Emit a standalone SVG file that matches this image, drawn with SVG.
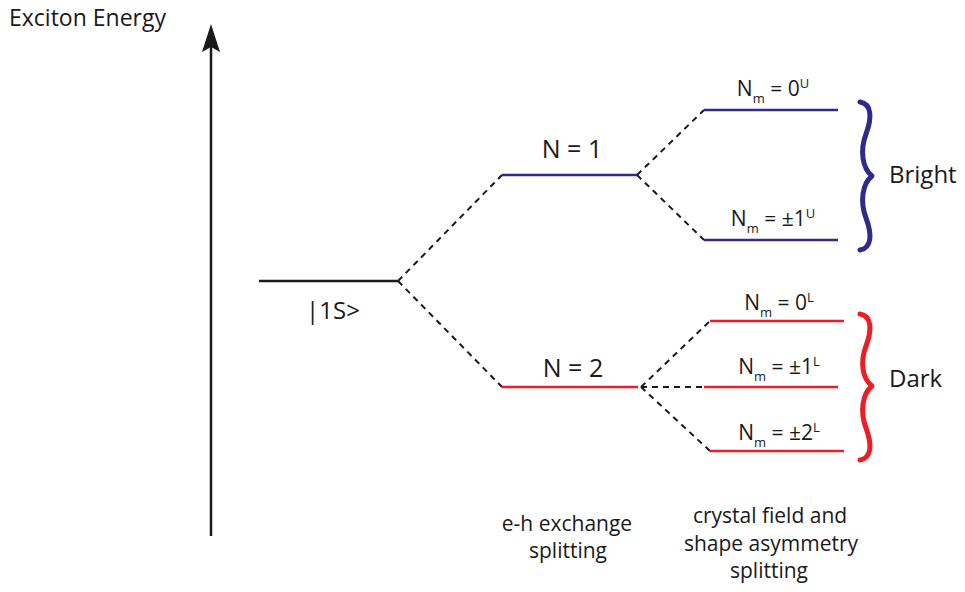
<svg xmlns="http://www.w3.org/2000/svg" width="965" height="592" viewBox="0 0 965 592">
<defs>
<style>
text{font-family:"Open Sans","Liberation Sans",sans-serif;fill:#1a1a1a}
.lvl{stroke-width:2.5;fill:none}
.blue{stroke:#2e2b8c}
.red{stroke:#ee1c25}
.blk{stroke:#1a1a1a}
.dash{stroke:#1a1a1a;stroke-width:2;stroke-dasharray:6 5;fill:none}
.brace{fill:none;stroke-width:5;stroke-linecap:round;stroke-linejoin:round}
.lab{font-size:21px;text-anchor:middle}
.sub{font-size:13px}
.big{font-size:24px}
.note{font-size:21px;text-anchor:middle}
</style>
</defs>

<g id="axis">
<line x1="211" y1="536" x2="211" y2="30" stroke="#1a1a1a" stroke-width="2.5"/>
<path d="M211,24 L220,52 L211,47 L202,52 Z" fill="#1a1a1a"/>
<text x="9" y="26" font-size="23">Exciton Energy</text>
</g>

<g id="connectors">
<line class="dash" x1="398" y1="281" x2="502" y2="175"/>
<line class="dash" x1="398" y1="281" x2="502" y2="387"/>
<line class="dash" x1="637" y1="175" x2="704" y2="110"/>
<line class="dash" x1="637" y1="175" x2="704" y2="240"/>
<line class="dash" x1="641" y1="387" x2="710" y2="321"/>
<line class="dash" x1="641" y1="387" x2="704" y2="387"/>
<line class="dash" x1="641" y1="387" x2="710" y2="451"/>
</g>

<g id="level-1S">
<line class="lvl blk" x1="259" y1="281" x2="398" y2="281"/>
<text x="333" y="319" font-size="24" text-anchor="middle">|1S&gt;</text>
</g>

<g id="level-N1">
<line class="lvl blue" x1="502" y1="175" x2="637" y2="175"/>
<text x="572" y="158" font-size="25" text-anchor="middle">N = 1</text>
</g>

<g id="level-N2">
<line class="lvl red" x1="502" y1="387" x2="638" y2="387"/>
<text x="573" y="377" font-size="25" text-anchor="middle">N = 2</text>
</g>

<g id="level-0U">
<line class="lvl blue" x1="704" y1="110" x2="838" y2="110"/>
<text x="773" y="96" class="lab">N<tspan class="sub" dy="7">m</tspan><tspan dy="-7"> = 0</tspan><tspan class="sub" dy="-8">U</tspan></text>
</g>

<g id="level-1U">
<line class="lvl blue" x1="704" y1="240" x2="838" y2="240"/>
<text x="773" y="226" class="lab">N<tspan class="sub" dy="7">m</tspan><tspan dy="-7"> = ±1</tspan><tspan class="sub" dy="-8">U</tspan></text>
</g>

<g id="level-0L">
<line class="lvl red" x1="710" y1="321" x2="844" y2="321"/>
<text x="779" y="310" class="lab">N<tspan class="sub" dy="7">m</tspan><tspan dy="-7"> = 0</tspan><tspan class="sub" dy="-8">L</tspan></text>
</g>

<g id="level-1L">
<line class="lvl red" x1="704" y1="387" x2="838" y2="387"/>
<text x="779" y="374" class="lab">N<tspan class="sub" dy="7">m</tspan><tspan dy="-7"> = ±1</tspan><tspan class="sub" dy="-8">L</tspan></text>
</g>

<g id="level-2L">
<line class="lvl red" x1="710" y1="451" x2="844" y2="451"/>
<text x="779" y="440" class="lab">N<tspan class="sub" dy="7">m</tspan><tspan dy="-7"> = ±2</tspan><tspan class="sub" dy="-8">L</tspan></text>
</g>

<g id="bright">
<path class="brace blue" d="M860,102 C872,104 872,118 866,134 C860,150 862,168 872,176 C862,184 860,202 866,218 C872,234 872,248 860,250"/>
<text x="889" y="183" class="big">Bright</text>
</g>

<g id="dark">
<path class="brace red" d="M860,314 C872,316 872,330 866,346 C860,362 862,378 872,386 C862,394 860,412 866,428 C872,444 872,458 860,460"/>
<text x="889" y="387" class="big">Dark</text>
</g>

<g id="eh-note">
<text x="567" y="531" class="note">e-h exchange</text>
<text x="568" y="558" class="note">splitting</text>
</g>

<g id="cf-note">
<text x="770" y="523" class="note">crystal field and</text>
<text x="771" y="551" class="note">shape asymmetry</text>
<text x="769" y="578" class="note">splitting</text>
</g>
</svg>
